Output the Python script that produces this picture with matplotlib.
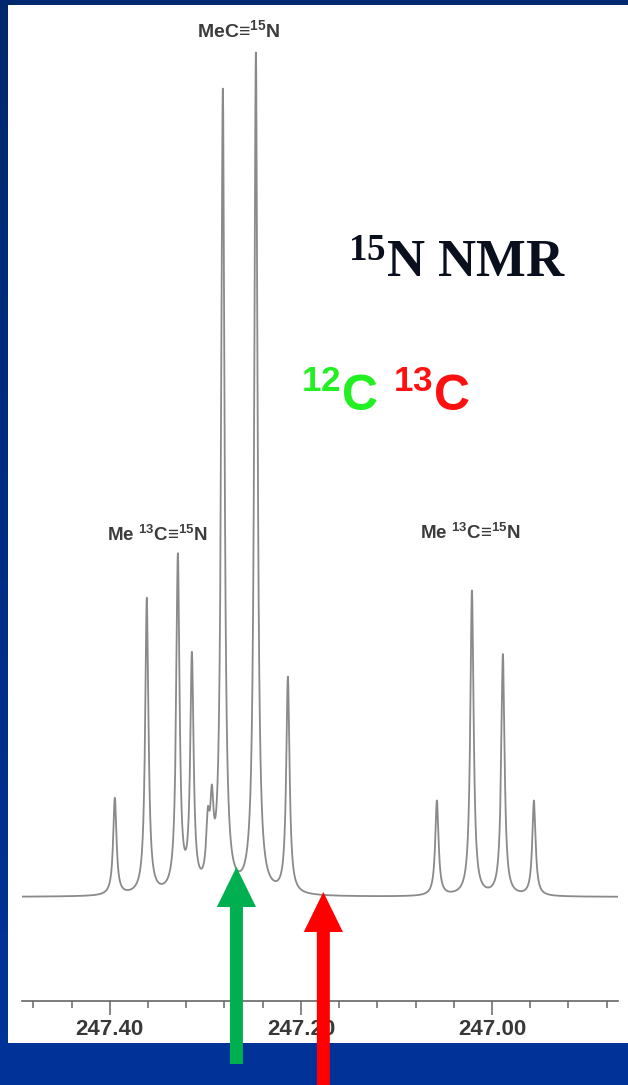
import numpy as np
import matplotlib
matplotlib.use("Agg")
import matplotlib.pyplot as plt
from matplotlib.patches import Rectangle, FancyArrow
from matplotlib.colors import LinearSegmentedColormap

plt.rcParams['mathtext.fontset'] = 'custom'
plt.rcParams['mathtext.default'] = 'regular'

# peaks: shift (ppm) and height above baseline
peak_ppm = [247.3948, 247.3613, 247.3288, 247.3141, 247.2974, 247.2932,
            247.2817, 247.2471, 247.2136,
            247.0576, 247.0209, 246.9885, 246.9560]
peak_height = [97, 296, 335, 232, 55, 70, 800, 840, 216, 95, 305, 241, 95]
hwhm = 0.0021

# axis ticks
major_ticks = [247.40, 247.20, 247.00]
major_labels = ['247.40', '247.20', '247.00']
minor_ticks = [247.48, 247.44, 247.36, 247.32, 247.28, 247.24, 247.16,
               247.12, 247.08, 247.04, 246.96, 246.92, 246.88]

# annotations
label_main = ('MeC≡$^{15}$N', 247.2655, 867)
label_13c = [('Me $^{13}$C≡$^{15}$N', 247.3508, 362),
             ('Me $^{13}$C≡$^{15}$N', 247.0231, 364)]
arrow_green = 247.2675
arrow_red = 247.1765

W, H = 628, 1085
fig = plt.figure(figsize=(W / 100, H / 100), dpi=100)

# blue slide background with white panel
bg = fig.add_axes([0, 0, 1, 1], zorder=-10)
cmap = LinearSegmentedColormap.from_list('slide', ['#00286e', '#003399'])
bg.imshow(np.linspace(0, 1, 256).reshape(-1, 1), cmap=cmap, aspect='auto',
          extent=(0, 1, 0, 1), origin='upper')
bg.add_patch(Rectangle((8 / W, 42 / H), 1, (1043 - 5) / H,
                       transform=bg.transAxes, facecolor='white', edgecolor='none'))
bg.set_xlim(0, 1)
bg.set_ylim(0, 1)
bg.axis('off')

ax = fig.add_axes([22 / W, 84 / H, (618 - 22) / W, (1080 - 84) / H])
ax.set_facecolor('none')

x = np.linspace(246.86, 247.50, 12000)
y = np.zeros_like(x)
for p, h in zip(peak_ppm, peak_height):
    y += h * hwhm**2 / ((x - p)**2 + hwhm**2)
ax.plot(x, y, color='#8a8a8a', lw=1.3, solid_joinstyle='round')

ax.set_xlim(247.492, 246.868)
ax.set_ylim(-104, 892)

for s in ['left', 'right', 'top']:
    ax.spines[s].set_visible(False)
ax.spines['bottom'].set_color('#666666')
ax.spines['bottom'].set_linewidth(1.2)
ax.set_yticks([])
ax.set_xticks(major_ticks)
ax.set_xticklabels(major_labels)
ax.set_xticks(minor_ticks, minor=True)
ax.tick_params(axis='x', which='major', length=10, width=1.1, color='#666666',
               pad=3, labelsize=16, labelcolor='#383838')
ax.tick_params(axis='x', which='minor', length=5, width=1.1, color='#666666')
for t in ax.get_xticklabels():
    t.set_fontfamily('Liberation Sans')
    t.set_fontweight('bold')

lbl_kw = dict(ha='center', va='center', color='#3c3c3c',
              fontfamily='Liberation Sans', fontweight='bold')
ax.text(label_main[1], label_main[2], label_main[0], fontsize=14, **lbl_kw)
for txt, px, py in label_13c:
    ax.text(px, py, txt, fontsize=13.5, **lbl_kw)

ax.text(247.0367, 620, '$^{15}$N NMR', ha='center', va='baseline', fontsize=38,
        fontfamily='Liberation Serif', fontweight='bold', color='#0a0f1e')
ax.text(247.159, 486, '$^{12}$C', ha='center', va='baseline', fontsize=36,
        fontfamily='Liberation Sans', fontweight='bold', color='#22f022')
ax.text(247.063, 486, '$^{13}$C', ha='center', va='baseline', fontsize=36,
        fontfamily='Liberation Sans', fontweight='bold', color='#ff1010')

# arrows pointing up at the spectrum
for xp, tip, tail, col in [(arrow_green, 30, -167, '#00b050'),
                           (arrow_red, 5, -200, '#ff0000')]:
    ar = FancyArrow(xp, tail, 0, tip - tail, width=0.0136, head_width=0.041,
                    head_length=40, length_includes_head=True,
                    color=col, lw=0, clip_on=False, zorder=5)
    ax.add_patch(ar)

fig.savefig('out.png', dpi=100)
